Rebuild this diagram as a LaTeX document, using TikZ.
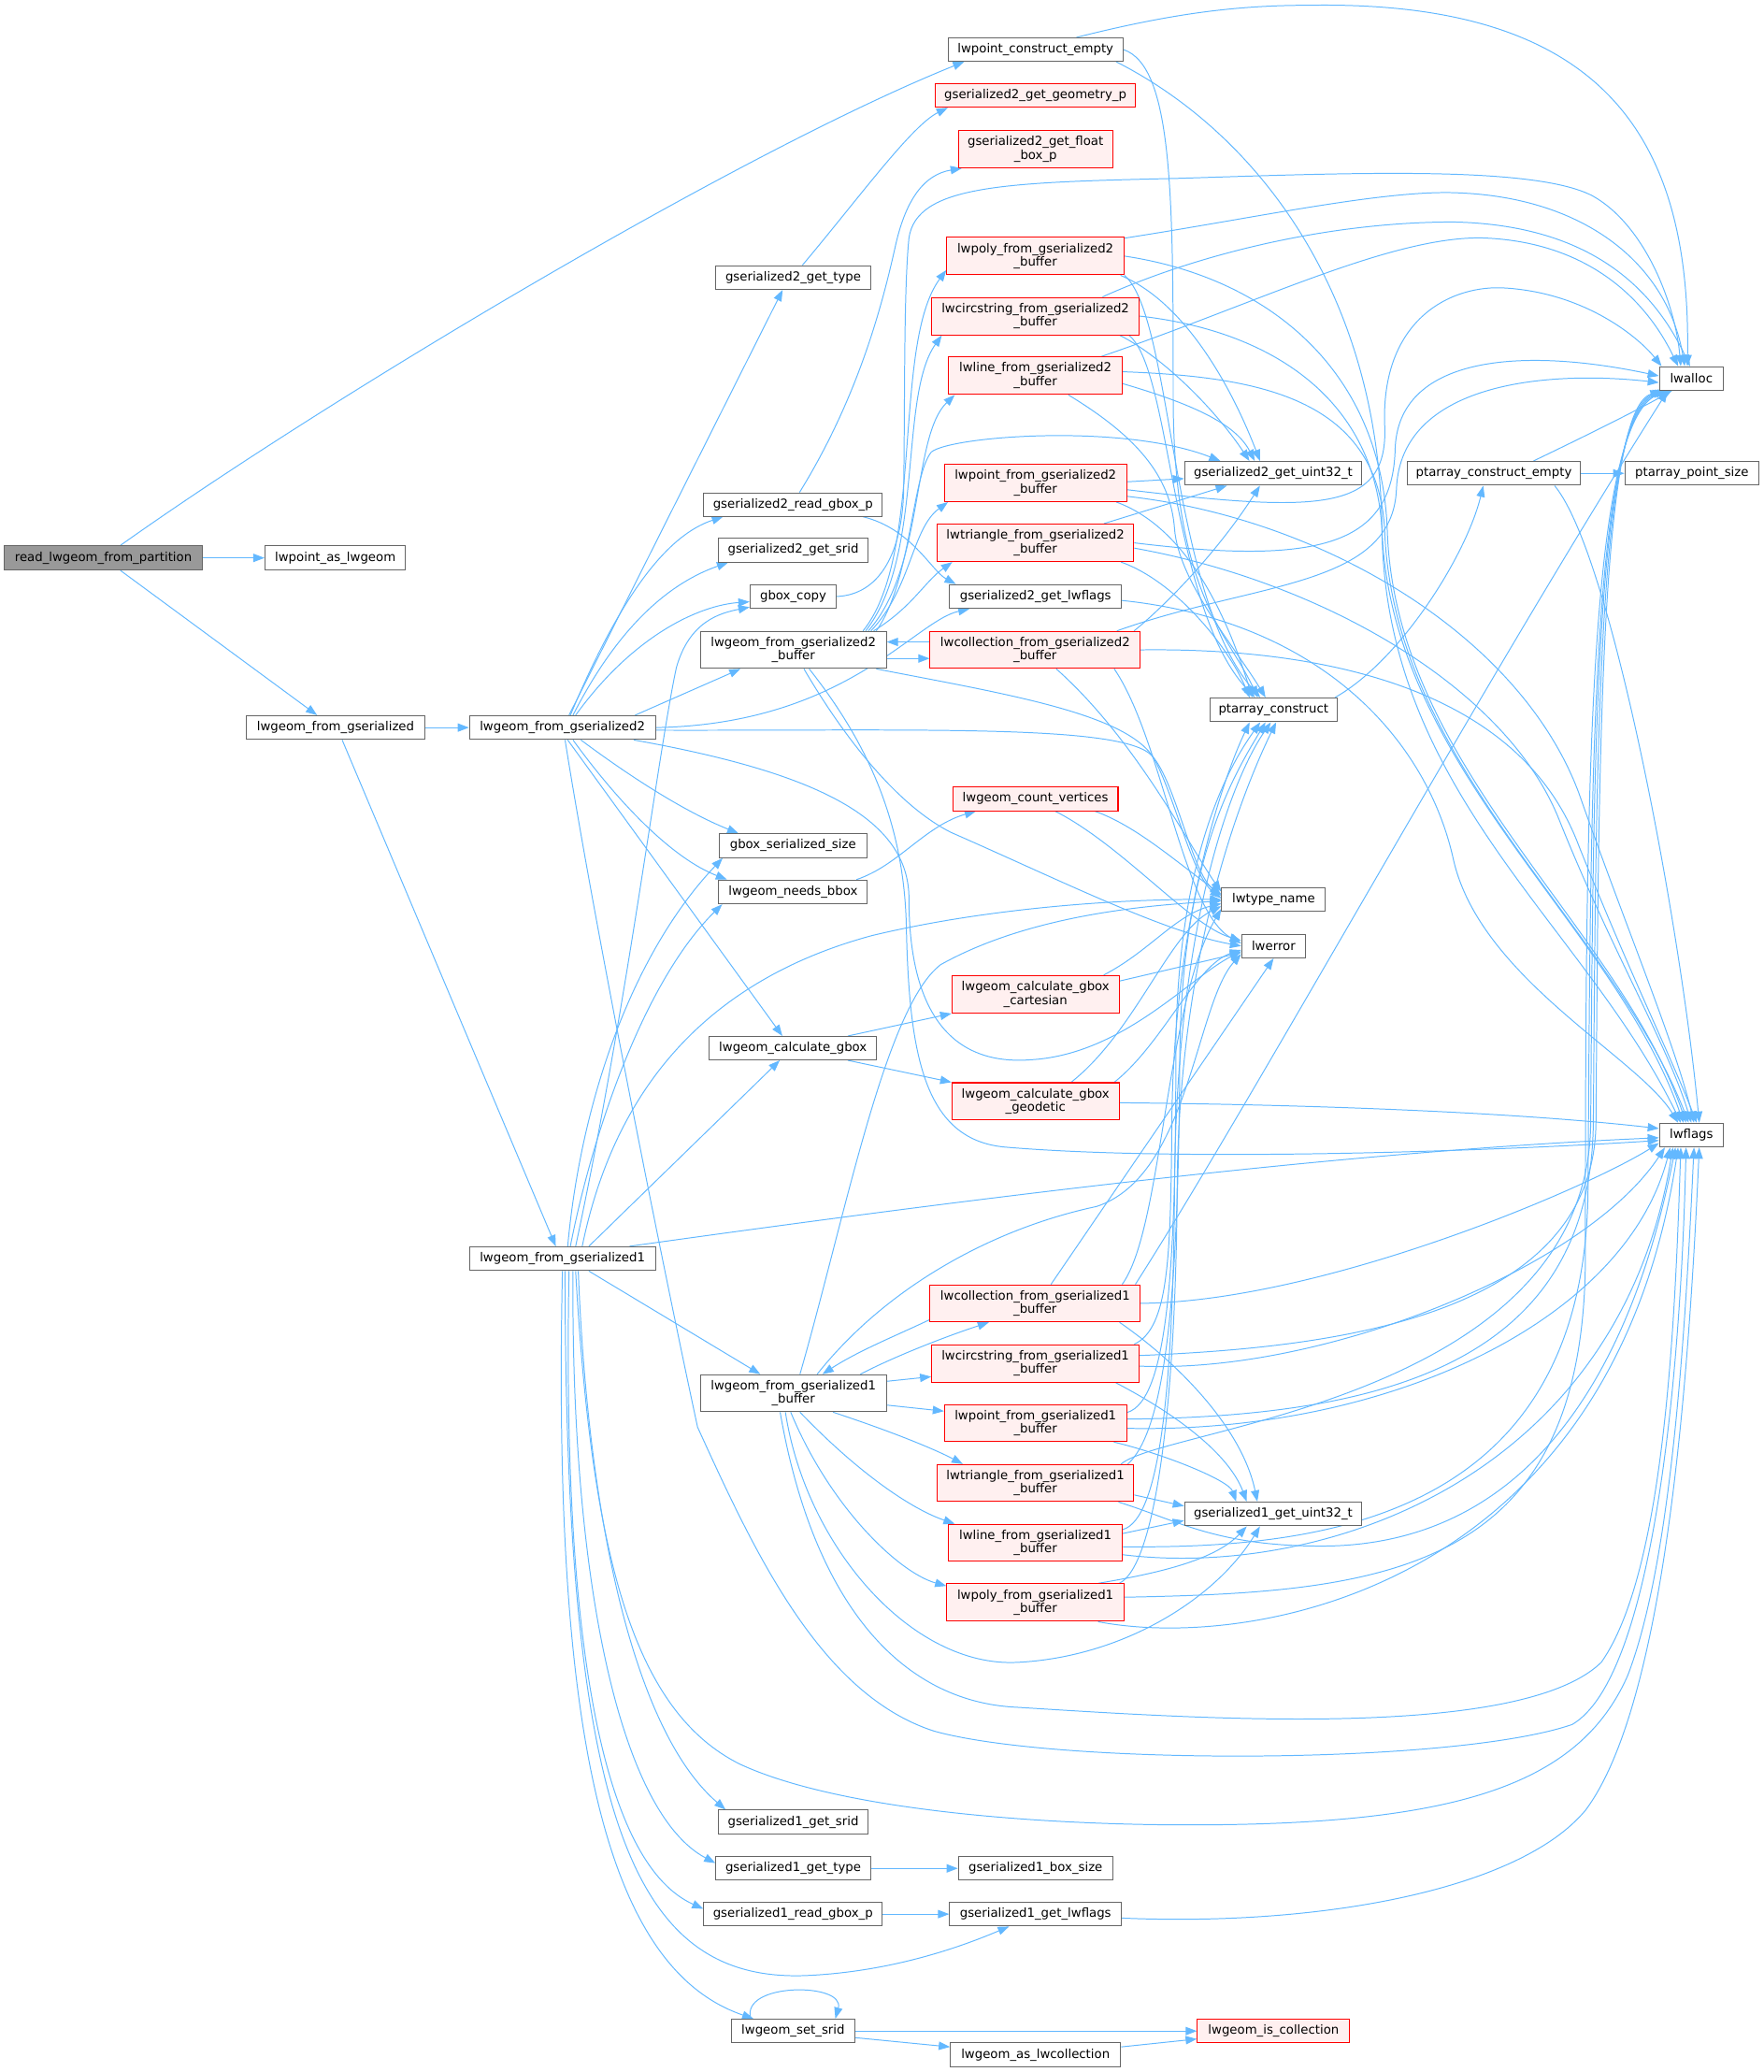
\documentclass[tikz,border=0pt]{standalone}
\usepackage{fontspec}
\setmainfont{DejaVu Sans}
\usetikzlibrary{arrows.meta}
\pgfdeclarelayer{edges}
\pgfsetlayers{edges,main}
\definecolor{edgec}{RGB}{99,184,255}
\definecolor{nodeb}{RGB}{102,102,102}
\definecolor{redfill}{RGB}{255,240,240}
\definecolor{rootfill}{RGB}{153,153,153}
\begin{document}
\begin{tikzpicture}[x=1pt,y=-1pt,
  edg/.style={draw=edgec, line width=0.7pt, -{Triangle[length=8.5pt,width=6.3pt]}},
  nb/.style={draw=nodeb, fill=white, line width=0.75pt, inner sep=0pt, align=center, text=black, font=\fontsize{9.4}{10.3}\selectfont},
  rb/.style={nb, draw=red, fill=redfill}]
\useasboundingbox (0,0) rectangle (1335,1568);

\node[nb, fill=rootfill, minimum width=149.6pt, minimum height=18.3pt] (read) at (78.2,422.2) {read\_lwgeom\_from\_partition};
\node[nb, minimum width=106.4pt, minimum height=18.3pt] (pae) at (253.8,422.2) {lwpoint\_as\_lwgeom};
\node[nb, minimum width=135pt, minimum height=18pt] (lfg) at (254,550.6) {lwgeom\_from\_gserialized};
\node[nb, minimum width=140.7pt, minimum height=18pt] (lfg2) at (425.7,550.6) {lwgeom\_from\_gserialized2};
\node[nb, minimum width=140.7pt, minimum height=18pt] (lfg1) at (425.7,952.5) {lwgeom\_from\_gserialized1};
\node[nb, minimum width=132.2pt, minimum height=17.7pt] (pce) at (783.8,37.5) {lwpoint\_construct\_empty};
\node[rb, minimum width=151.9pt, minimum height=17.7pt] (g2geom) at (783.7,72.3) {gserialized2\_get\_geometry\_p};
\node[rb, minimum width=116.8pt, minimum height=28.1pt] (g2fbox) at (783.8,112.9) {gserialized2\_get\_float\\\_box\_p};
\node[nb, minimum width=117.1pt, minimum height=18pt] (g2type) at (600.4,210) {gserialized2\_get\_type};
\node[rb, minimum width=134.1pt, minimum height=28.4pt] (poly2) at (783.7,193.8) {lwpoly\_from\_gserialized2\\\_buffer};
\node[rb, minimum width=156.9pt, minimum height=28.3pt] (circ2) at (783.7,239.2) {lwcircstring\_from\_gserialized2\\\_buffer};
\node[rb, minimum width=131.3pt, minimum height=28.4pt] (line2) at (783.7,284.3) {lwline\_from\_gserialized2\\\_buffer};
\node[rb, minimum width=137.8pt, minimum height=28pt] (point2) at (783.8,365.6) {lwpoint\_from\_gserialized2\\\_buffer};
\node[nb, minimum width=135pt, minimum height=17.7pt] (g2rgb) at (600.2,381.8) {gserialized2\_read\_gbox\_p};
\node[rb, minimum width=149pt, minimum height=28.4pt] (tri2) at (783.7,410.8) {lwtriangle\_from\_gserialized2\\\_buffer};
\node[nb, minimum width=113.7pt, minimum height=18pt] (g2srid) at (600.4,416.3) {gserialized2\_get\_srid};
\node[nb, minimum width=65.3pt, minimum height=18pt] (gboxcopy) at (600.4,451.4) {gbox\_copy};
\node[nb, minimum width=129.9pt, minimum height=18pt] (g2flags) at (783.8,451.4) {gserialized2\_get\_lwflags};
\node[nb, minimum width=140.7pt, minimum height=28pt] (l2b) at (600.5,491.8) {lwgeom\_from\_gserialized2\\\_buffer};
\node[rb, minimum width=159pt, minimum height=28pt] (coll2) at (783.5,491.8) {lwcollection\_from\_gserialized2\\\_buffer};
\node[nb, minimum width=48.3pt, minimum height=18pt] (lwalloc) at (1280.2,286.5) {lwalloc};
\node[nb, minimum width=134.2pt, minimum height=18pt] (g2u32) at (963.7,358.2) {gserialized2\_get\_uint32\_t};
\node[nb, minimum width=131.3pt, minimum height=18pt] (pce2) at (1130.7,358.2) {ptarray\_construct\_empty};
\node[nb, minimum width=101.5pt, minimum height=18pt] (pps) at (1280.6,358.2) {ptarray\_point\_size};
\node[nb, minimum width=96.4pt, minimum height=18pt] (pc) at (963.9,537.2) {ptarray\_construct};
\node[rb, minimum width=125.1pt, minimum height=18pt] (cnt) at (783.7,604.5) {lwgeom\_count\_vertices};
\node[nb, minimum width=111.7pt, minimum height=18pt] (gss) at (600.2,640) {gbox\_serialized\_size};
\node[nb, minimum width=112.6pt, minimum height=18pt] (nbb) at (600.3,675) {lwgeom\_needs\_bbox};
\node[nb, minimum width=78.5pt, minimum height=18pt] (ltn) at (964,680.8) {lwtype\_name};
\node[nb, minimum width=48.3pt, minimum height=18pt] (lwerror) at (964,715.9) {lwerror};
\node[rb, minimum width=126.5pt, minimum height=28.4pt] (cart) at (783.8,752.4) {lwgeom\_calculate\_gbox\\\_cartesian};
\node[nb, minimum width=126.4pt, minimum height=17.7pt] (cgb) at (600.2,793.2) {lwgeom\_calculate\_gbox};
\node[rb, minimum width=126.5pt, minimum height=28.3pt] (geod) at (783.8,833.5) {lwgeom\_calculate\_gbox\\\_geodetic};
\node[nb, minimum width=48.3pt, minimum height=18pt] (lwflags) at (1280.2,859) {lwflags};
\node[rb, minimum width=159pt, minimum height=28pt] (coll1) at (783.5,986.3) {lwcollection\_from\_gserialized1\\\_buffer};
\node[rb, minimum width=156.9pt, minimum height=28.4pt] (circ1) at (783.7,1031.8) {lwcircstring\_from\_gserialized1\\\_buffer};
\node[nb, minimum width=140.7pt, minimum height=28pt] (l1b) at (600.5,1054.3) {lwgeom\_from\_gserialized1\\\_buffer};
\node[rb, minimum width=137.8pt, minimum height=28pt] (point1) at (783.8,1076.9) {lwpoint\_from\_gserialized1\\\_buffer};
\node[rb, minimum width=149pt, minimum height=28pt] (tri1) at (783.7,1122.3) {lwtriangle\_from\_gserialized1\\\_buffer};
\node[nb, minimum width=134.2pt, minimum height=18pt] (g1u32) at (963.7,1145.7) {gserialized1\_get\_uint32\_t};
\node[rb, minimum width=131.3pt, minimum height=28pt] (line1) at (783.7,1167.5) {lwline\_from\_gserialized1\\\_buffer};
\node[rb, minimum width=134.1pt, minimum height=28.3pt] (poly1) at (783.7,1212.7) {lwpoly\_from\_gserialized1\\\_buffer};
\node[nb, minimum width=113.7pt, minimum height=18pt] (g1srid) at (600.4,1378.8) {gserialized1\_get\_srid};
\node[nb, minimum width=117.1pt, minimum height=18pt] (g1type) at (600.4,1413.9) {gserialized1\_get\_type};
\node[nb, minimum width=116.8pt, minimum height=18pt] (g1bs) at (783.8,1413.9) {gserialized1\_box\_size};
\node[nb, minimum width=135pt, minimum height=18pt] (g1rgb) at (600.2,1448.5) {gserialized1\_read\_gbox\_p};
\node[nb, minimum width=129.9pt, minimum height=18pt] (g1flags) at (783.8,1448.5) {gserialized1\_get\_lwflags};
\node[nb, minimum width=93.5pt, minimum height=18pt] (setsrid) at (600.3,1537) {lwgeom\_set\_srid};
\node[rb, minimum width=115.4pt, minimum height=18pt] (iscoll) at (964,1537) {lwgeom\_is\_collection};
\node[nb, minimum width=128.8pt, minimum height=18pt] (ascoll) at (783.8,1555) {lwgeom\_as\_lwcollection};

\begin{pgfonlayer}{edges}
% top level
\draw[edg] ([xshift=13pt]read.north) .. controls (250,300) and (560,115) .. ([xshift=-54pt]pce.south);
\draw[edg] (read.east) -- (pae.west);
\draw[edg] ([xshift=13pt]read.south) -- ([xshift=-14pt]lfg.north);
\draw[edg] (lfg.east) -- (lfg2.west);
\draw[edg] ([xshift=5pt]lfg.south) -- ([xshift=-5pt]lfg1.north);
% lwpoint_construct_empty
\draw[edg] ([xshift=31pt]pce.north) .. controls (880,12) and (930,4) .. (990,4) .. controls (1210,0) and (1280,100) .. ([xshift=-3pt]lwalloc.north);
\draw[edg] (pce.east) .. controls (888,50) and (888,150) .. (888,300) .. controls (888,450) and (930,480) .. ([xshift=-12pt]pc.north);
\draw[edg] ([xshift=61pt]pce.south) .. controls (950,100) and (1044,220) .. (1046,400) .. controls (1048,600) and (1200,700) .. ([xshift=-8pt]lwflags.north);
% lwgeom_from_gserialized2
\draw[edg] ([xshift=5pt]lfg2.north) -- ([xshift=-8pt]g2type.south);
\draw[edg] ([xshift=6pt]lfg2.north) .. controls (470,450) and (505,405) .. ([xshift=15pt]g2rgb.south west);
\draw[edg] ([xshift=8pt]lfg2.north) .. controls (470,470) and (510,440) .. ([xshift=8pt]g2srid.south west);
\draw[edg] ([xshift=10pt]lfg2.north) .. controls (480,480) and (530,458) .. ([yshift=-4pt]gboxcopy.west);
\draw[edg] ([xshift=55pt]lfg2.north) -- ([xshift=-40pt]l2b.south);
\draw[edg] (lfg2.east) .. controls (640,548) and (692,470) .. ([xshift=-50pt]g2flags.south);
\draw[edg] ([xshift=14pt]lfg2.south) .. controls (480,590) and (520,615) .. ([xshift=15pt]gss.north west);
\draw[edg] ([xshift=8pt]lfg2.south) .. controls (470,610) and (510,650) .. ([xshift=-50pt]nbb.north);
\draw[edg] ([xshift=4pt]lfg2.south) -- ([xshift=-8pt]cgb.north);
\draw[edg] ([yshift=-2pt]lfg2.east) .. controls (700,553) and (850,548) .. (872,572) .. controls (890,592) and (902,660) .. ([yshift=3pt]ltn.west);
\draw[edg] ([xshift=54pt]lfg2.south) .. controls (620,585) and (688,620) .. (688,680) .. controls (688,790) and (740,805) .. (780,802) .. controls (850,798) and (900,740) .. ([yshift=-4pt]lwerror.west);
\draw[edg] ([xshift=2pt]lfg2.south) .. controls (450,700) and (500,950) .. (528,1080) .. controls (570,1172) and (620,1282) .. (707,1310) .. controls (800,1336) and (1100,1336) .. (1190,1305) .. controls (1250,1270) and (1272,1050) .. ([xshift=-4pt]lwflags.south);
% lwgeom_from_gserialized2_buffer
\draw[edg] ([xshift=-18pt]l2b.north east) .. controls (700,420) and (675,260) .. ([yshift=4pt]poly2.south west);
\draw[edg] ([xshift=-16pt]l2b.north east) .. controls (700,420) and (680,300) .. ([xshift=8pt]circ2.south west);
\draw[edg] ([xshift=-14pt]l2b.north east) .. controls (700,430) and (690,330) .. ([xshift=5pt]line2.south west);
\draw[edg] ([xshift=-12pt]l2b.north east) .. controls (690,445) and (690,400) .. ([xshift=3pt]point2.south west);
\draw[edg] ([xshift=-10pt]l2b.north east) .. controls (690,460) and (700,440) .. ([xshift=12pt]tri2.south west);
\draw[edg] ([yshift=-6.5pt]l2b.east) -- ([yshift=-6.5pt]coll2.west);
\draw[edg] ([yshift=6pt]coll2.west) -- ([yshift=6pt]l2b.east);
\draw[edg] ([xshift=-8pt]l2b.north east) .. controls (690,440) and (690,360) .. (705,342) .. controls (720,330) and (850,320) .. ([xshift=-40pt]g2u32.north);
\draw[edg] ([xshift=-8pt]l2b.south east) .. controls (760,525) and (855,540) .. (874,575) .. controls (890,605) and (902,662) .. ([yshift=1pt]ltn.west);
\draw[edg] ([xshift=8pt]l2b.south) .. controls (640,560) and (680,610) .. (720,630) .. controls (800,665) and (880,705) .. (lwerror.west);
\draw[edg] ([xshift=12pt]l2b.south) .. controls (655,560) and (684,620) .. (686,700) .. controls (688,800) and (700,862) .. (760,868) .. controls (900,880) and (1150,870) .. ([yshift=-4pt]lwflags.west);
% gserialized2 helpers, gbox_copy
\draw[edg] ([xshift=5pt]g2rgb.north) .. controls (650,300) and (668,230) .. (678,185) .. controls (686,150) and (700,132) .. ([xshift=3pt]g2fbox.south west);
\draw[edg] ([xshift=-15pt]g2rgb.south east) .. controls (690,400) and (705,432) .. ([xshift=5pt]g2flags.north west);
\draw[edg] ([xshift=7pt]g2type.north) .. controls (650,150) and (690,95) .. ([xshift=10pt]g2geom.south west);
\draw[edg] (gboxcopy.east) .. controls (665,450) and (683,420) .. (684,370) .. controls (685,300) and (684,220) .. (688,180) .. controls (694,140) and (760,138) .. (891,135) .. controls (1020,131) and (1160,125) .. (1205,148) .. controls (1245,170) and (1268,230) .. ([xshift=-8pt]lwalloc.north);
\draw[edg] ([yshift=-3pt]g2flags.east) .. controls (1000,470) and (1080,560) .. (1100,650) .. controls (1120,740) and (1240,800) .. ([xshift=-10pt]lwflags.north);
% lwpoly_from_gserialized2_buffer
\draw[edg] ([yshift=-1pt]poly2.north east) .. controls (950,165) and (1050,143) .. (1105,146) .. controls (1200,150) and (1262,200) .. ([xshift=-5pt]lwalloc.north);
\draw[edg] ([xshift=-3pt]poly2.south east) .. controls (900,230) and (935,300) .. ([xshift=-10pt]g2u32.north);
\draw[edg] (poly2.south east) .. controls (888,240) and (885,450) .. ([xshift=-10pt]pc.north);
\draw[edg] (poly2.east) .. controls (960,210) and (1045,280) .. (1050,400) .. controls (1055,580) and (1225,700) .. ([xshift=-4pt]lwflags.north);
% lwcircstring_from_gserialized2_buffer
\draw[edg] ([xshift=-28pt]circ2.north east) .. controls (900,195) and (1000,168) .. (1100,168) .. controls (1200,170) and (1250,215) .. ([xshift=-1pt]lwalloc.north);
\draw[edg] ([xshift=-15pt]circ2.south east) .. controls (880,270) and (920,310) .. ([xshift=-18pt]g2u32.north);
\draw[edg] ([xshift=-8pt]circ2.south east) .. controls (887,280) and (886,460) .. ([xshift=-14pt]pc.north);
\draw[edg] (circ2.east) .. controls (960,250) and (1040,300) .. (1046,400) .. controls (1052,580) and (1222,700) .. ([xshift=-6pt]lwflags.north);
% lwline_from_gserialized2_buffer
\draw[edg] ([xshift=-16pt]line2.north east) .. controls (950,230) and (1050,180) .. (1120,180) .. controls (1200,182) and (1245,225) .. ([xshift=-10pt]lwalloc.north);
\draw[edg] ([yshift=-6pt]line2.east) .. controls (900,305) and (935,320) .. ([xshift=-14pt]g2u32.north);
\draw[edg] ([xshift=25pt]line2.south) .. controls (860,330) and (886,360) .. (889,400) .. controls (892,440) and (935,490) .. ([xshift=-6pt]pc.north);
\draw[edg] ([yshift=3pt]line2.east) .. controls (950,285) and (1042,300) .. (1048,400) .. controls (1054,580) and (1220,700) .. ([xshift=-2pt]lwflags.north);
% lwpoint_from_gserialized2_buffer
\draw[edg] ([yshift=1pt]point2.east) -- ([yshift=-4pt]g2u32.west);
\draw[edg] ([yshift=-5pt]point2.east) .. controls (1000,388) and (1052,388) .. (1048,320) .. controls (1046,240) and (1100,215) .. (1140,218) .. controls (1200,222) and (1240,255) .. ([xshift=2pt]lwalloc.north west);
\draw[edg] ([xshift=-8pt]point2.south east) .. controls (900,400) and (930,470) .. ([xshift=-16pt]pc.north);
\draw[edg] ([yshift=-10pt]point2.east) .. controls (1000,392) and (1150,480) .. (1195,600) .. controls (1230,700) and (1268,790) .. ([xshift=2pt]lwflags.north);
% lwtriangle_from_gserialized2_buffer
\draw[edg] ([xshift=-23pt]tri2.north east) -- ([xshift=-35pt]g2u32.south);
\draw[edg] (tri2.east) .. controls (1000,428) and (1054,412) .. (1056,340) .. controls (1058,270) and (1150,262) .. ([yshift=2pt]lwalloc.west);
\draw[edg] ([xshift=-10pt]tri2.south east) .. controls (890,440) and (930,490) .. ([xshift=-18pt]pc.north);
\draw[edg] ([yshift=-4pt]tri2.east) .. controls (1000,440) and (1140,520) .. (1180,620) .. controls (1220,720) and (1262,790) .. (lwflags.north);
% lwcollection_from_gserialized2_buffer
\draw[edg] ([xshift=-18pt]coll2.north east) .. controls (950,440) and (1054,445) .. (1057,370) .. controls (1060,290) and (1170,280) .. ([yshift=-3pt]lwalloc.west);
\draw[edg] ([xshift=-5pt]coll2.north east) .. controls (880,460) and (920,420) .. ([xshift=-10pt]g2u32.south);
\draw[edg] ([xshift=16pt]coll2.south) .. controls (860,560) and (900,640) .. ([yshift=6pt]ltn.west);
\draw[edg] ([xshift=-20pt]coll2.south east) .. controls (880,560) and (895,690) .. ([yshift=2pt]lwerror.west);
\draw[edg] (coll2.east) .. controls (1000,490) and (1150,520) .. (1195,640) .. controls (1235,740) and (1265,800) .. ([xshift=4pt]lwflags.north);
% ptarray
\draw[edg] ([xshift=-2pt]pc.north east) .. controls (1060,500) and (1110,420) .. ([xshift=-8pt]pce2.south);
\draw[edg] ([xshift=30pt]pce2.north) .. controls (1200,330) and (1240,310) .. ([xshift=-15pt]lwalloc.south);
\draw[edg] (pce2.east) -- (pps.west);
\draw[edg] ([xshift=-20pt]pce2.south east) .. controls (1220,420) and (1272,700) .. ([xshift=6pt]lwflags.north);
% bbox helpers
\draw[edg] ([xshift=48pt]nbb.north) .. controls (680,655) and (700,625) .. ([xshift=-45pt]cnt.south);
\draw[edg] ([xshift=45pt]cnt.south) .. controls (860,625) and (890,652) .. ([yshift=4pt]ltn.west);
\draw[edg] ([xshift=15pt]cnt.south) .. controls (850,640) and (900,700) .. ([yshift=4pt]lwerror.west);
\draw[edg] ([xshift=-22pt]cgb.north east) -- (cart.south west);
\draw[edg] ([xshift=-22pt]cgb.south east) -- (geod.north west);
\draw[edg] ([xshift=-12pt]cart.north east) .. controls (870,720) and (890,692) .. ([yshift=-3pt]ltn.west);
\draw[edg] ([yshift=10pt]cart.east) -- ([yshift=-5pt]lwerror.west);
\draw[edg] ([xshift=27pt]geod.north) .. controls (860,780) and (885,705) .. ([yshift=-5pt]ltn.west);
\draw[edg] ([xshift=-4pt]geod.north east) .. controls (880,790) and (905,730) .. ([yshift=-3pt]lwerror.west);
\draw[edg] ([yshift=-1pt]geod.east) .. controls (1000,836) and (1150,842) .. ([yshift=5pt]lwflags.west);
% lwgeom_from_gserialized1
\draw[edg] ([xshift=4pt]lfg1.north) .. controls (440,830) and (480,720) .. ([xshift=3pt]gss.south west);
\draw[edg] ([xshift=6pt]lfg1.north) .. controls (450,850) and (490,740) .. ([xshift=3pt]nbb.south west);
\draw[edg] ([xshift=10pt]lfg1.north) .. controls (475,760) and (498,570) .. (512,505) .. controls (522,470) and (545,464) .. ([yshift=-8pt]gboxcopy.west);
\draw[edg] ([xshift=20pt]lfg1.north) -- ([xshift=-10pt]cgb.south);
\draw[edg] ([xshift=15pt]lfg1.north) .. controls (470,800) and (560,735) .. (660,708) .. controls (760,684) and (870,680) .. (ltn.west);
\draw[edg] ([xshift=-20pt]lfg1.north east) .. controls (700,912) and (1000,872) .. ([yshift=-2pt]lwflags.west);
\draw[edg] ([xshift=20pt]lfg1.south) -- ([xshift=-25pt]l1b.north);
\draw[edg] ([xshift=12pt]lfg1.south) .. controls (445,1150) and (480,1310) .. ([xshift=6pt]g1srid.north west);
\draw[edg] ([xshift=8pt]lfg1.south) .. controls (432,1200) and (470,1372) .. ([yshift=4pt]g1type.west);
\draw[edg] ([xshift=5pt]lfg1.south) .. controls (425,1260) and (460,1412) .. ([yshift=4pt]g1rgb.west);
\draw[edg] ([xshift=2pt]lfg1.south) .. controls (428,1380) and (480,1500) .. (610,1495) .. controls (680,1492) and (735,1470) .. ([xshift=-20pt]g1flags.south);
\draw[edg] (lfg1.south) .. controls (418,1320) and (460,1490) .. ([xshift=-30pt]setsrid.north);
\draw[edg] ([xshift=10pt]lfg1.south) .. controls (448,1180) and (480,1295) .. (560,1335) .. controls (640,1372) and (800,1381) .. (900,1381) .. controls (1100,1381) and (1195,1352) .. (1232,1268) .. controls (1266,1180) and (1276,1000) .. ([xshift=2pt]lwflags.south);
% lwgeom_from_gserialized1_buffer
\draw[edg] ([xshift=-20pt]l1b.north east) .. controls (680,1025) and (720,1010) .. ([xshift=-35pt]coll1.south);
\draw[edg] ([yshift=2pt]coll1.south west) .. controls (680,1010) and (650,1022) .. ([xshift=22pt]l1b.north);
\draw[edg] ([yshift=9pt]l1b.east) -- ([yshift=-10pt]circ1.west);
\draw[edg] ([yshift=-9pt]l1b.east) -- ([yshift=9pt]point1.west);
\draw[edg] ([xshift=30pt]l1b.south) .. controls (680,1085) and (710,1098) .. ([xshift=20pt]tri1.north west);
\draw[edg] ([xshift=5pt]l1b.south) .. controls (650,1115) and (690,1142) .. ([xshift=5pt]line1.north west);
\draw[edg] ([xshift=-2pt]l1b.south) .. controls (628,1140) and (680,1190) .. ([yshift=-2pt]poly1.north west);
\draw[edg] ([xshift=-6pt]l1b.south) .. controls (610,1170) and (690,1262) .. (770,1258) .. controls (850,1254) and (920,1210) .. ([xshift=-10pt]g1u32.south);
\draw[edg] ([xshift=-10pt]l1b.south) .. controls (615,1210) and (680,1288) .. (770,1292) .. controls (900,1300) and (1150,1318) .. (1212,1258) .. controls (1260,1190) and (1268,1000) .. ([xshift=-8pt]lwflags.south);
\draw[edg] ([xshift=5pt]l1b.north) .. controls (640,920) and (670,762) .. (712,730) .. controls (780,692) and (870,685) .. ([yshift=-1pt]ltn.west);
\draw[edg] ([xshift=18pt]l1b.north) .. controls (670,975) and (750,930) .. (830,913) .. controls (900,890) and (905,760) .. ([yshift=-6pt]lwerror.west);
% lwcollection_from_gserialized1_buffer
\draw[edg] ([xshift=12pt]coll1.north) -- (lwerror.south);
\draw[edg] ([xshift=-14pt]coll1.north east) .. controls (880,930) and (882,760) .. ([yshift=-7pt]ltn.west);
\draw[edg] ([xshift=-4pt]coll1.north east) .. controls (950,830) and (1120,520) .. ([xshift=-18pt]lwalloc.south);
\draw[edg] ([xshift=-16pt]coll1.south east) .. controls (890,1030) and (940,1080) .. ([xshift=-12pt]g1u32.north);
\draw[edg] (coll1.east) .. controls (1000,985) and (1200,900) .. ([yshift=-6pt]lwflags.west);
% lwcircstring_from_gserialized1_buffer
\draw[edg] ([xshift=-4pt]circ1.north east) .. controls (885,1005) and (886,950) .. (887,850) .. controls (888,700) and (925,590) .. ([xshift=-18pt]pc.south);
\draw[edg] ([xshift=-18pt]circ1.south east) .. controls (890,1070) and (930,1100) .. ([xshift=-20pt]g1u32.north);
\draw[edg] ([yshift=6pt]circ1.east) .. controls (1000,1020) and (1206,1000) .. (1208,850) .. controls (1210,600) and (1210,310) .. ([xshift=2pt]lwalloc.south west);
\draw[edg] ([yshift=-2pt]circ1.east) .. controls (1000,1040) and (1200,960) .. ([xshift=-20pt]lwflags.south);
% lwpoint_from_gserialized1_buffer
\draw[edg] ([yshift=8pt]point1.east) .. controls (885,1060) and (890,950) .. (890,800) .. controls (890,650) and (930,580) .. ([xshift=-10pt]pc.south);
\draw[edg] ([xshift=-10pt]point1.south east) .. controls (880,1100) and (930,1120) .. ([xshift=-28pt]g1u32.north);
\draw[edg] ([yshift=3pt]point1.east) .. controls (1050,1072) and (1204,1030) .. (1206,850) .. controls (1208,600) and (1208,310) .. ([xshift=4pt]lwalloc.south west);
\draw[edg] ([yshift=-4pt]point1.east) .. controls (1050,1085) and (1230,1000) .. ([xshift=-16pt]lwflags.south);
% lwtriangle_from_gserialized1_buffer
\draw[edg] ([yshift=-9pt]tri1.east) -- ([yshift=6pt]g1u32.west);
\draw[edg] ([xshift=-10pt]tri1.north east) .. controls (880,1080) and (1202,1060) .. (1204,850) .. controls (1206,600) and (1206,310) .. ([xshift=6pt]lwalloc.south west);
\draw[edg] ([xshift=-5pt]tri1.north east) .. controls (885,1080) and (892,960) .. (893,800) .. controls (894,650) and (935,585) .. ([xshift=-6pt]pc.south);
\draw[edg] ([xshift=-12pt]tri1.south east) .. controls (890,1150) and (920,1170) .. (1000,1170) .. controls (1150,1170) and (1232,1050) .. ([xshift=-12pt]lwflags.south);
% lwline_from_gserialized1_buffer
\draw[edg] ([yshift=7pt]line1.east) -- ([yshift=-5pt]g1u32.west);
\draw[edg] ([yshift=10pt]line1.east) .. controls (878,1150) and (888,1050) .. (889,900) .. controls (890,700) and (932,590) .. ([xshift=-2pt]pc.south);
\draw[edg] ([yshift=-3pt]line1.east) .. controls (1000,1172) and (1200,1150) .. (1202,900) .. controls (1204,600) and (1204,310) .. ([xshift=8pt]lwalloc.south west);
\draw[edg] ([yshift=-9pt]line1.east) .. controls (1000,1195) and (1225,1120) .. ([xshift=-14pt]lwflags.south);
% lwpoly_from_gserialized1_buffer
\draw[edg] ([xshift=-20pt]poly1.north east) .. controls (880,1190) and (920,1180) .. ([xshift=-20pt]g1u32.south);
\draw[edg] ([yshift=4pt]poly1.east) .. controls (1050,1205) and (1200,1190) .. (1200,950) .. controls (1200,600) and (1202,310) .. ([xshift=10pt]lwalloc.south west);
\draw[edg] ([xshift=-4pt]poly1.north east) .. controls (875,1185) and (890,1060) .. (891,900) .. controls (892,720) and (940,600) .. ([xshift=2pt]pc.south);
\draw[edg] ([xshift=-20pt]poly1.south east) .. controls (950,1250) and (1220,1200) .. ([xshift=-10pt]lwflags.south);
% bottom
\draw[edg] (g1type.east) -- (g1bs.west);
\draw[edg] (g1rgb.east) -- (g1flags.west);
\draw[edg] ([yshift=-3pt]g1flags.east) .. controls (1000,1458) and (1150,1430) .. (1200,1370) .. controls (1260,1290) and (1278,1050) .. ([xshift=6pt]lwflags.south);
\draw[edg] ([xshift=-32pt]setsrid.north) .. controls (560,1500) and (640,1500) .. ([xshift=32pt]setsrid.north);
\draw[edg] (setsrid.east) -- (iscoll.west);
\draw[edg] ([yshift=-5pt]setsrid.east) -- ([yshift=6pt]ascoll.west);
\draw[edg] ([yshift=6pt]ascoll.east) -- ([yshift=-6pt]iscoll.west);
\end{pgfonlayer}
\end{tikzpicture}
\end{document}
